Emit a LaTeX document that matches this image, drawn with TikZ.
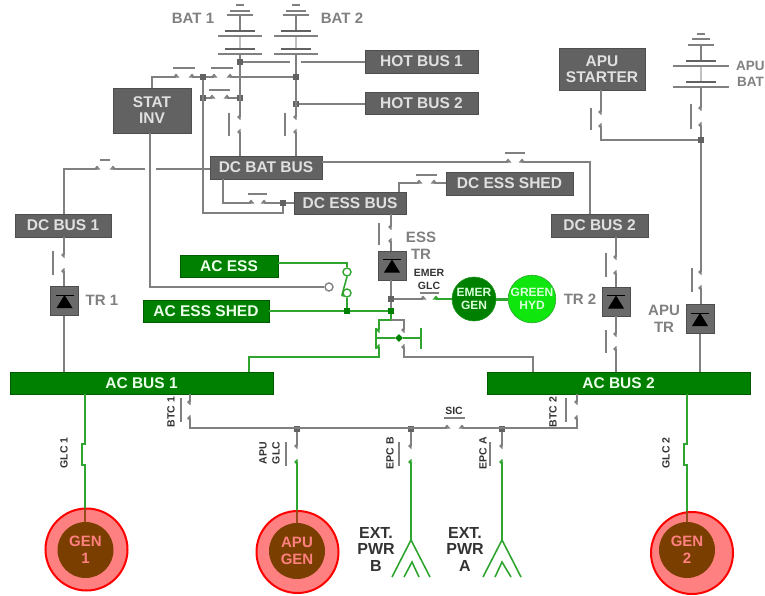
\documentclass[tikz,border=0pt]{standalone}
\usepackage{fontspec}
\setmainfont{Liberation Sans}
\definecolor{linegray}{HTML}{808080}
\definecolor{boxgray}{HTML}{626262}
\definecolor{linegreen}{HTML}{2FA52F}
\definecolor{busgreen}{HTML}{008000}
\definecolor{hydgreen}{HTML}{0EE60E}
\definecolor{genbrown}{HTML}{7A3E00}
\definecolor{gensalmon}{HTML}{FF8080}
\tikzset{
    graybox/.style={draw=boxgray!80!black,fill=boxgray,text=white!88!black,inner sep=0pt,align=center,line width=0.8pt,font=\bfseries\fontsize{15.5}{16}\selectfont},
    greenbox/.style={graybox,draw=busgreen!70!black,fill=busgreen,text=white!92!green},
    trbox/.style={draw=boxgray!80!black,fill=boxgray!95!white,minimum width=28pt,minimum height=29pt,inner sep=0pt,line width=0.8pt},
    grayline/.style={draw=linegray,line width=1.6pt},
    greenline/.style={draw=linegreen,line width=1.6pt},
    brownline/.style={draw=genbrown!80!gensalmon,line width=1.6pt},
    swbar/.style={draw=linegray,line width=1.3pt},
    junc/.style={fill=boxgray,minimum size=5.5pt,inner sep=0pt},
    greenjunc/.style={fill=busgreen,minimum size=5.5pt,inner sep=0pt},
    contact/.style={circle,fill=white,line width=1.4pt,minimum size=8pt,inner sep=0pt},
    graylabel/.style={text=linegray,align=center,inner sep=0pt,font=\bfseries\fontsize{15}{17}\selectfont},
    blacklabel/.style={text=black!80,align=center,inner sep=0pt,font=\bfseries\fontsize{16}{16.5}\selectfont},
    swlabel/.style={text=black!80,align=center,inner sep=0pt,font=\bfseries\fontsize{10.5}{13}\selectfont},
    genout/.style={circle,draw=red,fill=gensalmon,line width=2pt,minimum size=82pt,inner sep=0pt},
    genin/.style={circle,fill=genbrown,text=gensalmon,minimum size=56pt,inner sep=0pt,align=center,font=\bfseries\fontsize{15}{17.5}\selectfont},
    hydcircle/.style={circle,line width=0.6pt,inner sep=0pt,align=center,text=white!85!green,font=\bfseries\fontsize{12}{13}\selectfont}
}
\newcommand{\vcon}[3][linegray]{\fill[#1] (#2-3,#3) -- (#2,#3-3) -- (#2+0.7,#3-3) -- (#2+0.7,#3+3) -- (#2,#3+3) -- cycle;}
\newcommand{\hcon}[3][linegray]{\fill[#1] (#2,#3-3.5) -- (#2+3.5,#3+0.7) -- (#2-3.5,#3+0.7) -- cycle;}
\newcommand{\vsw}[6][linegray]{
    \coordinate (#2t) at (#3,#4);
    \coordinate (#2b) at (#3,#5);
    \vcon{#3}{#4}
    \vcon[#1]{#3}{#5}
    \draw[swbar] (#6,#4-4) -- (#6,#5+4);
}
\newcommand{\hsw}[6][linegray]{
    \coordinate (#2l) at (#3,#5);
    \coordinate (#2r) at (#4,#5);
    \hcon{#3}{#5}
    \hcon[#1]{#4}{#5}
    \draw[swbar] (#3-3,#6) -- (#4+3,#6);
}
\newcommand{\bigcell}[4]{
    \draw[line width=2.8pt,boxgray] (#1-#2,#3) -- (#1+#2,#3);
    \draw[line width=1.3pt,linegray] (#1-#4,#3+5) -- (#1+#4,#3+5);
}
\newcommand{\diode}[2]{
    \fill[black] (#1,#2-6) -- (#1+8,#2+7) -- (#1-8,#2+7) -- cycle;
    \draw[black,line width=0.9pt] (#1-9,#2-6) -- (#1+9,#2-6);
}

\begin{document}
\begin{tikzpicture}[x=1pt,y=-1pt]
    \useasboundingbox (0,0) rectangle (765,596);

    \node[graybox,minimum width=113pt,minimum height=23pt] (hotbusone) at (421.5,61.5) {HOT BUS 1};
    \node[graybox,minimum width=113pt,minimum height=22pt] (hotbustwo) at (421.5,103) {HOT BUS 2};
    \node[graybox,minimum width=78pt,minimum height=45pt] (statinv) at (152,110.5) {STAT\\INV};
    \node[graybox,minimum width=112pt,minimum height=23pt] (dcbatbus) at (266,167.5) {DC BAT BUS};
    \node[graybox,minimum width=112pt,minimum height=22pt] (dcessbus) at (350,203) {DC ESS BUS};
    \node[graybox,minimum width=127pt,minimum height=23pt] (dcessshed) at (509.5,183.5) {DC ESS SHED};
    \node[graybox,minimum width=96pt,minimum height=23pt] (dcbusone) at (63,225.5) {DC BUS 1};
    \node[graybox,minimum width=97pt,minimum height=23pt] (dcbustwo) at (599.5,225.5) {DC BUS 2};
    \node[graybox,minimum width=86pt,minimum height=42pt] (apustarter) at (602,69) {APU\\STARTER};
    \node[greenbox,minimum width=98pt,minimum height=22pt] (acess) at (229,266) {AC ESS};
    \node[greenbox,minimum width=126pt,minimum height=22pt] (acessshed) at (206,311) {AC ESS SHED};
    \node[greenbox,minimum width=263pt,minimum height=22pt] (acbusone) at (141.5,383) {AC BUS 1};
    \node[greenbox,minimum width=263pt,minimum height=22pt] (acbustwo) at (618.5,383) {AC BUS 2};

    \node[trbox] (trone) at (64.5,301) {};
    \node[trbox] (essbox) at (392,265.5) {};
    \node[trbox] (trtwo) at (616,301.5) {};
    \node[trbox] (aputr) at (700,319) {};
    \diode{64.5}{301}
    \diode{392}{265.5}
    \diode{616}{301.5}
    \diode{700}{319}

    \node[hydcircle,fill=busgreen,draw=linegreen!60!busgreen,minimum size=44pt] (emergen) at (474,299) {EMER\\GEN};
    \node[hydcircle,fill=hydgreen,draw=linegreen,minimum size=46pt] (greenhyd) at (532,299) {GREEN\\HYD};
    \draw[linegreen,line width=3pt] (emergen) -- (greenhyd);

    \node[genout] (genone) at (86.5,549.5) {};
    \node[genin] (genonein) at (85.5,550) {GEN\\1};
    \node[genout] (apugen) at (297.5,552) {};
    \node[genin] (apugenin) at (297,551) {APU\\GEN};
    \node[genout] (gentwo) at (692,553) {};
    \node[genin] (gentwoin) at (687,550) {GEN\\2};

    \coordinate (batone) at (240,54);
    \coordinate (battwo) at (296,54);
    \coordinate (apubat) at (701,88);
    \draw[swbar] (236,5) -- (244,5);
    \draw[swbar] (230,11) -- (250,11);
    \draw[swbar] (227,15) -- (253,15);
    \draw[swbar] (292,5) -- (300,5);
    \draw[swbar] (286,11) -- (306,11);
    \draw[swbar] (283,15) -- (309,15);
    \draw[swbar] (697,34) -- (705,34);
    \draw[swbar] (692,39) -- (710,39);
    \draw[swbar] (688,45) -- (714,45);
    \draw[swbar] (240,15) -- (240,31);
    \draw[swbar] (296,15) -- (296,31);
    \draw[swbar] (701,45) -- (701,60);
    \draw[swbar,linegray!50] (240,36) -- (240,49);
    \draw[swbar,linegray!50] (296,36) -- (296,49);
    \draw[swbar,linegray!50] (701,66) -- (701,82);
    \bigcell{240}{15}{31}{22}
    \bigcell{296}{15}{31}{22}
    \bigcell{240}{15}{49}{22}
    \bigcell{296}{15}{49}{22}
    \bigcell{701}{15}{61}{28}
    \bigcell{701}{15}{82}{28}

    \node[junc] (jbatone) at (240,62) {};
    \node[junc] (jbattwo) at (296,77) {};
    \node[junc] (jstat) at (203,77) {};
    \node[junc] (jleft) at (203,98) {};
    \node[junc] (jright) at (240,98) {};
    \node[junc] (jhottwo) at (296,104) {};
    \node[junc] (jess) at (283,203) {};
    \node[junc] (japu) at (701,140) {};
    \node[junc] (jemer) at (391,299) {};
    \node[greenjunc] (jshed) at (391,311) {};
    \node[greenjunc] (jsw) at (347,311) {};
    \node[greenjunc,rotate=45] (jtie) at (399,338) {};
    \node[junc] (japuglc) at (297,429) {};
    \node[junc] (jepcb) at (411,429) {};
    \node[junc] (jepca) at (502,429) {};
    \coordinate (gapa) at (290,62);
    \coordinate (gapb) at (301,62);
    \coordinate (gapc) at (156,169);
    \coordinate (gapd) at (145,169);
    \coordinate (esstie) at (223,203);
    \coordinate (bottie) at (203,213);
    \coordinate (dctwotop) at (590,214);
    \coordinate (shedtop) at (399,183);
    \coordinate (startcorner) at (601,140);
    \coordinate (statdrop) at (150,287);
    \coordinate (acesscorner) at (347,263);

    \hsw{statone}{176}{192}{77}{68}
    \hsw{stattwo}{214}{230}{77}{68}
    \hsw{stathree}{212}{227}{98}{90}
    \hsw{busone}{113}{97}{169}{160}
    \hsw{esslink}{251}{264}{203}{194}
    \hsw{bustwo}{508}{522}{162}{153}
    \hsw{shed}{419}{434}{183}{175}
    \hsw[linegreen]{emer}{423}{436}{299}{293}
    \hsw{sic}{447}{462}{428}{418}

    \vsw{swbatone}{240}{117}{132}{229}
    \vsw{swbattwo}{296}{117}{132}{285}
    \vsw{swone}{64}{255}{271}{53}
    \vsw{swessa}{391}{227}{241}{379}
    \vsw{swtwoa}{616}{257}{273}{606}
    \vsw{swtwob}{616}{334}{349}{606}
    \vsw{swstart}{601}{112}{126}{591}
    \vsw{swapua}{701}{108}{125}{691}
    \vsw{swapub}{701}{272}{288}{692}
    \vsw{swbtcone}{190}{402}{418}{181}
    \vsw{swbtctwo}{577}{402}{418}{566}
    \vsw[linegreen]{swapuglc}{297}{446}{462}{286}
    \vsw[linegreen]{swepcb}{411}{446}{462}{399}
    \vsw[linegreen]{swepca}{502}{446}{462}{490}

    \draw[grayline] (batone) -- (jbatone) -- (swbatonet);
    \draw[grayline] (swbatoneb) -- (swbatoneb |- dcbatbus.north);
    \draw[grayline] (battwo) -- (jbattwo) -- (swbattwot);
    \draw[grayline] (swbattwob) -- (swbattwob |- dcbatbus.north);
    \draw[grayline] (jbatone) -- (gapa);
    \draw[grayline] (gapb) -- (hotbusone.west |- gapb);
    \draw[grayline] (jhottwo) -- (hotbustwo.west |- jhottwo);
    \draw[grayline] (statinv.north) -- (statinv.north |- statonel) -- (statonel);
    \draw[grayline] (statoner) -- (jstat) -- (stattwol);
    \draw[grayline] (stattwor) -- (jbattwo);
    \draw[grayline] (jleft) -- (stathreel);
    \draw[grayline] (stathreer) -- (jright);
    \draw[grayline] (jstat) -- (bottie) -- (bottie -| jess) -- (jess);
    \draw[grayline] (jess) -- (dcessbus.west |- jess);
    \draw[grayline] (esstie |- dcbatbus.south) -- (esstie) -- (esslinkl);
    \draw[grayline] (esslinkr) -- (jess);
    \draw[grayline] (dcbatbus.west |- gapc) -- (gapc);
    \draw[grayline] (gapd) -- (busonel);
    \draw[grayline] (busoner) -- (swonet |- busoner) -- (swonet |- dcbusone.north);
    \draw[grayline] (swonet |- dcbusone.south) -- (swonet);
    \draw[grayline] (swoneb) -- (trone.north -| swoneb);
    \draw[grayline] (trone.south -| swoneb) -- (acbusone.north -| swoneb);
    \draw[grayline] (dcbatbus.east |- bustwol) -- (bustwol);
    \draw[grayline] (bustwor) -- (dctwotop |- bustwor) -- (dctwotop);
    \draw[grayline] (shedtop |- dcessbus.north) -- (shedtop) -- (shedl);
    \draw[grayline] (shedr) -- (dcessshed.west |- shedr);
    \draw[grayline] (dcessbus.south -| swessat) -- (swessat);
    \draw[grayline] (swessab) -- (essbox.north -| swessab);
    \draw[grayline] (essbox.south -| jemer) -- (jemer) -- (jshed);
    \draw[grayline] (jemer) -- (emerl);
    \draw[greenline] (emerr) -- (emergen.west);
    \draw[grayline] (dcbustwo.south -| swtwoat) -- (swtwoat);
    \draw[grayline] (swtwoab) -- (trtwo.north -| swtwoab);
    \draw[grayline] (trtwo.south -| swtwobt) -- (swtwobt);
    \draw[grayline] (swtwobb) -- (acbustwo.north -| swtwobb);
    \draw[grayline] (apustarter.south -| swstartt) -- (swstartt);
    \draw[grayline] (swstartb) -- (startcorner) -- (japu);
    \draw[grayline] (apubat) -- (swapuat);
    \draw[grayline] (swapuab) -- (japu) -- (swapubt);
    \draw[grayline] (swapubb) -- (aputr.north -| swapubb);
    \draw[grayline] (aputr.south) -- (acbustwo.north -| aputr.south);

    \node[contact,draw=linegray] (statcontact) at (329,287) {};
    \node[contact,draw=linegreen] (acessa) at (347,272) {};
    \node[contact,draw=linegreen] (acessb) at (347,293) {};
    \draw[grayline] (statinv.south -| statdrop) -- (statdrop) -- (statcontact.west);
    \draw[greenline] (acess.east |- acesscorner) -- (acesscorner) -- (acessa.north);
    \draw[greenline] (acessb.south) -- (jsw);
    \draw[greenline] (acessa.south) -- (342,295) -- (acessb.south west);
    \draw[greenline] (acessshed.east) -- (jsw) -- (jshed);

    \coordinate (tiesplit) at (391,320);
    \coordinate (tieleft) at (379,357);
    \coordinate (tieright) at (404,357);
    \coordinate (tiea) at (249,357);
    \coordinate (tieb) at (533,357);
    \draw[greenline] (jshed) -- (tiesplit) -- (379,320) -- (379,330);
    \draw[grayline] (tiesplit) -- (404,320) -- (404,330);
    \draw[greenline] (379,347) -- (tieleft) -- (tiea) -- (tiea |- acbusone.north);
    \draw[grayline] (404,347) -- (tieright) -- (tieb) -- (tieb |- acbustwo.north);
    \vcon[linegreen]{379}{330}
    \vcon[linegreen]{379}{347}
    \vcon{404}{330}
    \vcon{404}{347}
    \draw[greenline] (376,328) -- (376,349);
    \draw[greenline] (421,328) -- (421,349);
    \draw[greenline] (376,338) -- (jtie) -- (421,338);

    \draw[grayline] (swbtconet |- acbusone.south) -- (swbtconet);
    \draw[grayline] (swbtconeb) -- (swbtconeb |- sicl) -- (sicl);
    \draw[grayline] (sicr) -- (swbtctwob |- sicr) -- (swbtctwob);
    \draw[grayline] (swbtctwot) -- (swbtctwot |- acbustwo.south);
    \draw[grayline] (japuglc) -- (swapuglct);
    \draw[grayline] (jepcb) -- (swepcbt);
    \draw[grayline] (jepca) -- (swepcat);
    \draw[greenline] (swapuglcb) -- (apugen.north -| swapuglcb);
    \draw[brownline] (apugen.north -| swapuglcb) -- (apugenin.north -| swapuglcb);

    \coordinate (plugb) at (411,540);
    \coordinate (pluga) at (502,540);
    \draw[greenline] (swepcbb) -- (plugb);
    \draw[greenline] (swepcab) -- (pluga);
    \draw[greenline] (392,577) -- (plugb) -- (430,577);
    \draw[greenline] (404,577) -- (412,562) -- (419,577);
    \draw[greenline] (483,577) -- (pluga) -- (521,577);
    \draw[greenline] (495,577) -- (502,562) -- (511,577);

    \coordinate (glconea) at (85,444);
    \coordinate (glconeb) at (85,465);
    \coordinate (glctwoa) at (687,444);
    \coordinate (glctwob) at (687,465);
    \draw[greenline] (glconea |- acbusone.south) -- (glconea) -- (82,444) -- (82,465) -- (glconeb) -- (glconeb |- genone.north);
    \draw[greenline] (glctwoa |- acbustwo.south) -- (glctwoa) -- (684,444) -- (684,465) -- (glctwob) -- (glctwob |- gentwo.north);
    \draw[brownline] (glconeb |- genone.north) -- (glconeb |- genonein.north);
    \draw[brownline] (glctwob |- gentwo.north) -- (glctwob |- gentwoin.north);

    \node[graylabel] (labbatone) at (193,18) {BAT 1};
    \node[graylabel] (labbattwo) at (342,18) {BAT 2};
    \node[graylabel,anchor=west,font=\bfseries\fontsize{13.5}{16}\selectfont] (labapubat) at (736,74) {APU\\BAT};
    \node[graylabel] (labtrone) at (102,300) {TR 1};
    \node[graylabel] (labesstr) at (421,245.5) {ESS\\TR};
    \node[graylabel] (labtrtwo) at (580,299) {TR 2};
    \node[graylabel] (labaputr) at (664,319) {APU\\TR};
    \node[swlabel] (labemer) at (429,279.5) {EMER\\GLC};
    \node[swlabel] (labsic) at (454,411) {SIC};
    \node[swlabel,rotate=90] (labbtcone) at (171,412) {BTC 1};
    \node[swlabel,rotate=90] (labbtctwo) at (553,412) {BTC 2};
    \node[swlabel,rotate=90] (labapuglc) at (269.5,453) {APU\\GLC};
    \node[swlabel,rotate=90] (labepcb) at (390,453) {EPC B};
    \node[swlabel,rotate=90] (labepca) at (483,453) {EPC A};
    \node[swlabel,rotate=90] (labglcone) at (64,453) {GLC 1};
    \node[swlabel,rotate=90] (labglctwo) at (666,453) {GLC 2};
    \node[blacklabel] (labextb) at (376,549) {EXT.\\PWR\\B};
    \node[blacklabel] (labexta) at (465,549) {EXT.\\PWR\\A};
\end{tikzpicture}
\end{document}
